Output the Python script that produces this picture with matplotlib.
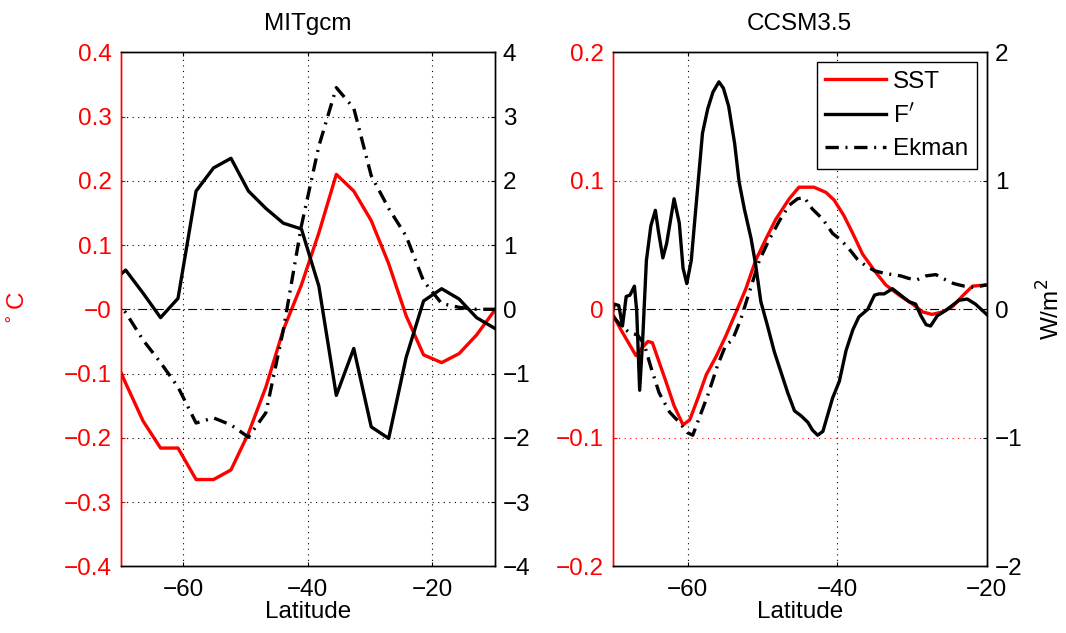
import numpy as np
import matplotlib.pyplot as plt
from matplotlib.ticker import FuncFormatter

plt.rcParams['font.family'] = ['Liberation Sans', 'DejaVu Sans']
plt.rcParams['axes.unicode_minus'] = True

# MITgcm (left panel), coarse grid
mit_lat = [-72.0, -69.2, -66.4, -63.6, -60.8, -57.9, -55.1, -52.3, -49.5, -46.7,
           -43.9, -41.0, -38.2, -35.4, -32.6, -29.8, -27.0, -24.2, -21.4, -18.5,
           -15.7, -12.9, -10.1, -7.3]
mit_sst = [-0.054, -0.115, -0.174, -0.216, -0.216, -0.265, -0.265, -0.250, -0.193, -0.121,
           -0.032, 0.038, 0.119, 0.210, 0.184, 0.138, 0.071, -0.010, -0.071, -0.083,
           -0.069, -0.040, -0.003, 0.035]
mit_f = [0.38, 0.61, 0.25, -0.13, 0.17, 1.84, 2.20, 2.35, 1.84, 1.57,
         1.34, 1.25, 0.36, -1.34, -0.61, -1.83, -2.01, -0.75, 0.13, 0.32,
         0.16, -0.13, -0.29, -0.45]
mit_ek = [0.15, -0.05, -0.48, -0.83, -1.21, -1.77, -1.69, -1.80, -1.99, -1.61,
          -0.32, 1.30, 2.54, 3.45, 3.13, 2.08, 1.57, 1.14, 0.44, 0.09,
          0.03, 0.0, 0.0, 0.0]

# CCSM3.5 (right panel)
cc_sst_lat = [-70.0, -68.9, -68.0, -66.9, -66.2, -65.3, -64.7, -63.8, -62.9, -61.8,
              -60.6, -59.7, -58.6, -57.5, -56.2, -54.9, -53.5, -52.2, -50.9, -49.5,
              -48.2, -46.4, -45.1, -43.1, -41.5, -40.4, -39.1, -37.9, -36.6, -35.0,
              -33.5, -31.7, -29.9, -28.6, -27.3, -25.9, -24.6, -23.3, -21.9, -20.0]
cc_sst = [-0.004, -0.016, -0.025, -0.036, -0.031, -0.025, -0.026, -0.041, -0.056, -0.075,
          -0.090, -0.086, -0.069, -0.051, -0.037, -0.021, -0.002, 0.016, 0.038, 0.055,
          0.070, 0.086, 0.095, 0.095, 0.091, 0.085, 0.073, 0.059, 0.043, 0.030,
          0.019, 0.011, 0.004, -0.002, -0.004, -0.002, 0.002, 0.010, 0.018, 0.019]

cc_f_lat = [-70.0, -69.8, -69.2, -68.7, -68.2, -67.7, -67.1, -66.8, -66.4, -66.0,
            -65.5, -64.9, -64.3, -63.9, -63.3, -62.8, -61.8, -61.1, -60.6, -60.1,
            -59.5, -58.9, -58.0, -57.3, -56.6, -55.8, -55.2, -54.5, -53.7, -53.1,
            -52.4, -51.5, -50.9, -50.2, -49.3, -48.4, -47.5, -46.6, -45.7, -44.8,
            -43.9, -43.3, -42.6, -41.9, -41.3, -40.6, -39.7, -38.8, -37.9, -37.1,
            -35.9, -35.0, -34.4, -33.7, -32.6, -31.5, -30.4, -29.5, -28.8, -28.1,
            -27.5, -26.6, -25.5, -24.6, -23.7, -22.6, -21.5, -20.0]
cc_f = [-0.02, 0.04, 0.03, -0.13, 0.10, 0.11, 0.18, -0.01, -0.63, -0.24,
        0.38, 0.65, 0.77, 0.61, 0.40, 0.51, 0.86, 0.67, 0.32, 0.20,
        0.38, 0.78, 1.37, 1.56, 1.69, 1.77, 1.72, 1.58, 1.29, 0.99,
        0.78, 0.55, 0.35, 0.06, -0.13, -0.33, -0.49, -0.65, -0.79, -0.83,
        -0.88, -0.94, -0.98, -0.95, -0.83, -0.69, -0.56, -0.32, -0.16, -0.06,
        0.00, 0.11, 0.12, 0.12, 0.16, 0.11, 0.06, 0.04, -0.05, -0.12,
        -0.13, -0.05, -0.01, 0.03, 0.07, 0.08, 0.04, -0.04]

cc_ek_lat = [-70.0, -68.9, -67.8, -66.7, -65.8, -64.9, -63.8, -62.4, -61.1, -60.0,
             -59.3, -58.4, -57.3, -56.0, -54.9, -54.0, -52.9, -51.7, -50.4, -49.1,
             -47.7, -46.4, -45.3, -44.4, -43.3, -41.9, -40.6, -39.5, -38.4, -37.3,
             -36.2, -35.0, -33.7, -32.6, -31.5, -30.4, -29.3, -28.1, -26.8, -25.5,
             -24.4, -23.0, -21.7, -20.0]
cc_ek = [-0.05, -0.13, -0.18, -0.20, -0.27, -0.45, -0.65, -0.80, -0.88, -0.96,
         -0.98, -0.84, -0.67, -0.44, -0.28, -0.24, -0.08, 0.14, 0.38, 0.54,
         0.69, 0.81, 0.86, 0.87, 0.78, 0.70, 0.59, 0.54, 0.47, 0.39,
         0.34, 0.30, 0.28, 0.27, 0.26, 0.24, 0.23, 0.26, 0.27, 0.23,
         0.20, 0.18, 0.17, 0.19]

RED = '#ff0000'
FS = 17.5
ekman_ls = (0, (4, 2, 0.6, 2))


def fmt(v, pos):
    s = '%g' % round(v, 3)
    return s.replace('-', '\u2212')


def panel(rect, lat_s, sst, lat_f, f, lat_e, ek, xlim, ylim1, ylim2, step1, step2,
          title, hgrid_color):
    ax1 = fig.add_axes(rect)
    ax2 = ax1.twinx()
    ax1.plot(lat_s, sst, color=RED, lw=2.4, label='SST')
    ax2.axhline(0, color='k', lw=0.8, ls=(0, (8, 3, 1, 3)), zorder=0)
    ax2.plot(lat_f, f, color='k', lw=2.4, label='F$^\\prime$')
    ax2.plot(lat_e, ek, color='k', lw=2.4, ls=ekman_ls, label='Ekman')

    ax1.set_xlim(xlim)
    ax1.set_ylim(ylim1)
    ax2.set_ylim(ylim2)
    ax1.set_xticks([-60, -40, -20])
    ax1.set_yticks(np.arange(ylim1[0], ylim1[1] + step1 / 2, step1))
    ax2.set_yticks(np.arange(ylim2[0], ylim2[1] + step2 / 2, step2))
    ax1.xaxis.set_major_formatter(FuncFormatter(fmt))
    ax1.yaxis.set_major_formatter(FuncFormatter(fmt))
    ax2.yaxis.set_major_formatter(FuncFormatter(fmt))

    # dotted grid
    for x in [-60, -40, -20]:
        if xlim[0] < x < xlim[1]:
            ax1.axvline(x, color='k', lw=0.8, ls=(0, (1, 4)), zorder=0)
    for y in ax2.get_yticks():
        if ylim2[0] < y < ylim2[1] and abs(y) > 1e-9:
            ax2.axhline(y, color=hgrid_color, lw=0.8, ls=(0, (1, 4)), zorder=0)

    ax1.tick_params(axis='y', colors=RED, direction='in', length=3, labelsize=FS, pad=6.5)
    ax1.tick_params(axis='x', direction='in', length=3, labelsize=FS, top=True, pad=9)
    ax2.tick_params(axis='y', colors='k', direction='in', length=3, labelsize=FS, pad=6)
    ax1.spines['left'].set_color(RED)
    ax2.spines['left'].set_color(RED)
    for sp in list(ax1.spines.values()) + list(ax2.spines.values()):
        sp.set_linewidth(1.0)
    ax1.set_title(title, fontsize=FS, pad=16)
    ax1.set_xlabel('Latitude', fontsize=FS, labelpad=0)
    return ax1, ax2


fig = plt.figure(figsize=(10.66, 6.33), dpi=100)

a1, a2 = panel([0.1132, 0.1054, 0.3508, 0.812], mit_lat, mit_sst, mit_lat, mit_f,
               mit_lat, mit_ek, (-70, -10), (-0.4, 0.4), (-4, 4), 0.1, 1,
               'MITgcm', 'k')
a1.set_ylabel('$^\\circ$C', color=RED, fontsize=FS)
a1.yaxis.set_label_coords(-0.2425, 0.5)

b1, b2 = panel([0.5748, 0.1054, 0.3508, 0.812], cc_sst_lat, cc_sst, cc_f_lat, cc_f,
               cc_ek_lat, cc_ek, (-70, -20), (-0.2, 0.2), (-2, 2), 0.1, 1,
               'CCSM3.5', RED)
b2.set_ylabel('W/m$^2$', fontsize=FS)
b2.yaxis.set_label_coords(1.135, 0.5)

h1, lab1 = b1.get_legend_handles_labels()
h2, lab2 = b2.get_legend_handles_labels()
leg = b2.legend(h1 + h2, lab1 + lab2, loc='upper right', fontsize=FS,
                fancybox=False, framealpha=1, edgecolor='k', borderaxespad=0.4,
                handlelength=2.5, handletextpad=0.3, labelspacing=0.45, borderpad=0.35)
leg.get_frame().set_linewidth(1.0)

fig.savefig('out.png', dpi=100)
